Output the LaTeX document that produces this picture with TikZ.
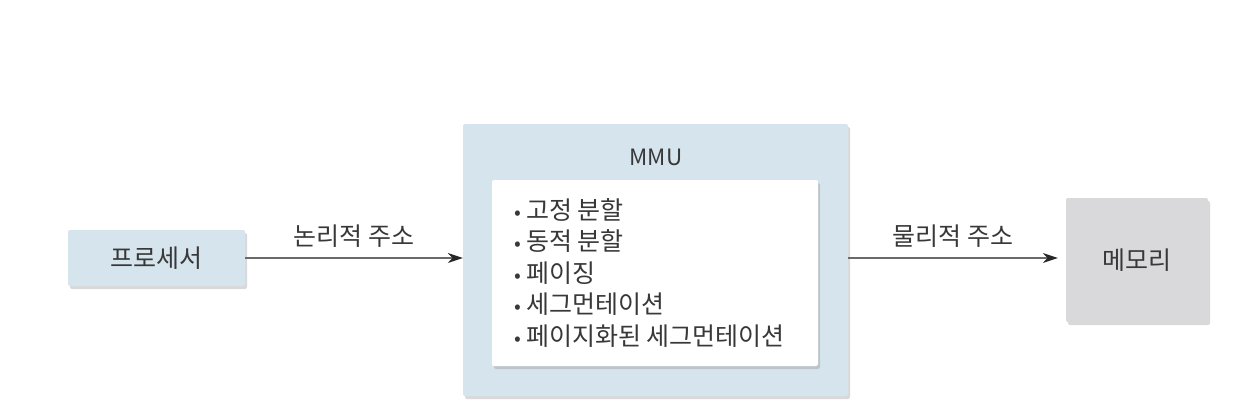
\documentclass[tikz,border=0pt]{standalone}
\usepackage{fontspec}
\setmainfont{Noto Sans CJK KR}
\usetikzlibrary{arrows.meta, shadows, positioning}
\definecolor{boxblue}{HTML}{D6E4ED}
\definecolor{boxgray}{HTML}{D9D9DB}
\definecolor{textgray}{HTML}{383838}
\definecolor{linegray}{HTML}{6A6A6A}
\tikzset{
  %unit box style
  unit/.style={
    fill=boxblue
    , draw=none
    , text=textgray
    , font=\fontsize{25}{30}\selectfont
    , drop shadow={shadow xshift=2pt, shadow yshift=-3pt, opacity=0.3}
    , rounded corners=2pt
    , anchor=center
  },
  %inner list panel
  panel/.style={
    unit
    , fill=white
  },
  %list entry
  entry/.style={
    text=textgray
    , font=\fontsize{25}{30}\selectfont
    , anchor=west
    , inner sep=0pt
  },
  %address arrow
  addr/.style={
    draw=linegray
    , line width=1.4pt
    , -{Stealth[length=15pt, width=10pt, black!85]}
  },
  addrlabel/.style={
    text=textgray
    , font=\fontsize{25}{30}\selectfont
    , inner sep=0pt
  },
}

\begin{document}
\begin{tikzpicture}[x=1pt, y=-1pt]
  \useasboundingbox (0,0) rectangle (1256,418);

  % boxes
  \node[unit, minimum width=177pt, minimum height=56pt] (cpu) at (156.5,258) {프로세서};
  \node[unit, minimum width=385pt, minimum height=272pt] (mmu) at (655.5,260) {};
  \node[panel, minimum width=326pt, minimum height=186pt] (list) at (655,273) {};
  \node[unit, fill=boxgray, minimum width=142pt, minimum height=124pt] (mem) at (1137,260) {메모리};

  \node[addrlabel, font=\fontsize{22.5}{27}\selectfont] (mmulbl) at (656,157) {MMU};

  % methods in the MMU
  \foreach \txt [count=\i] in {고정 분할, 동적 분할, 페이징, 세그먼테이션, 페이지화된 세그먼테이션}
    \node[entry] (item\i) at (514,{210+31.5*(\i-1)}) {{\fontsize{20}{24}\selectfont\textbullet}\hspace{5pt}\txt};

  % connectors
  \draw[addr] (cpu.east) -- (cpu -| mmu.west)
    node[addrlabel, midway, above=10pt] (logical) {논리적 주소};
  \draw[addr] (mmu.east |- cpu) -- ([xshift=-8pt]mem.west |- cpu)
    node[addrlabel, midway, above=10pt] (physical) {물리적 주소};
\end{tikzpicture}
\end{document}
